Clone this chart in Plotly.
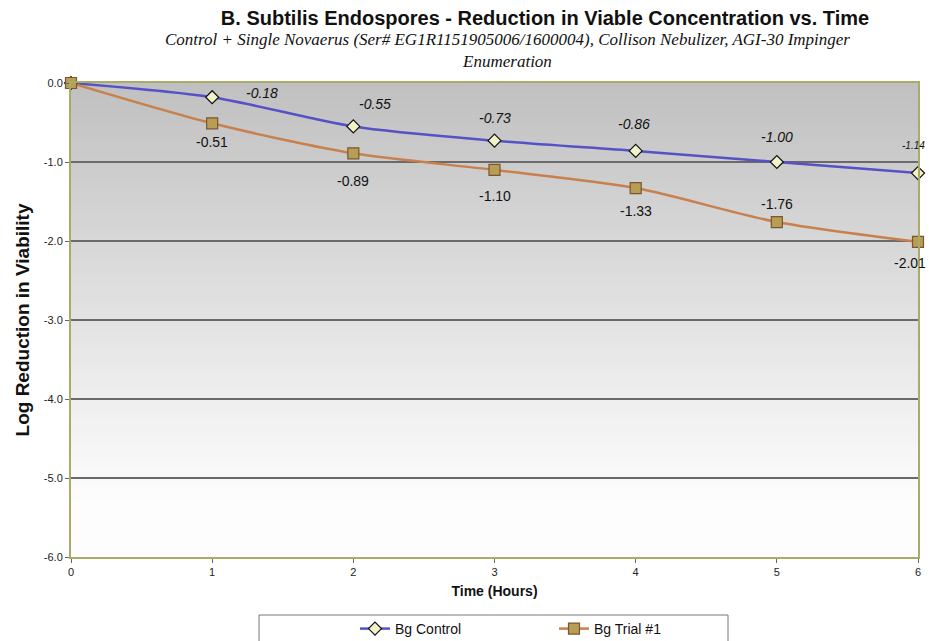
import plotly.graph_objects as go

hours = [0, 1, 2, 3, 4, 5, 6]
control = [0.0, -0.18, -0.55, -0.73, -0.86, -1.00, -1.14]
trial = [0.0, -0.51, -0.89, -1.10, -1.33, -1.76, -2.01]
control_labels = ["", "-0.18", "-0.55", "-0.73", "-0.86", "-1.00", "-1.14"]
trial_labels = ["", "-0.51", "-0.89", "-1.10", "-1.33", "-1.76", "-2.01"]
y_ticks = [0, -1, -2, -3, -4, -5, -6]
y_tick_labels = ["0.0", "-1.0", "-2.0", "-3.0", "-4.0", "-5.0", "-6.0"]

FONT = "Liberation Sans, Arial, sans-serif"
fig = go.Figure()

# gradient background via stacked rectangles (top gray -> bottom white)
n = 90
for i in range(n):
    f = (i + 0.5) / n  # 0 bottom, 1 top
    t = min(1.0, max(0.0, (1 - f) / 0.88))  # 0 at top, 1 near bottom
    c = int(round(192 + (253 - 192) * t))
    fig.add_shape(type="rect", xref="paper", yref="paper",
                  x0=0, x1=1, y0=i / n, y1=(i + 1) / n + 0.002,
                  fillcolor=f"rgb({c},{c},{c})", line_width=0, layer="below")

fig.add_trace(go.Scatter(
    x=hours, y=control, name="Bg Control", mode="lines+markers",
    line=dict(color="#5552c6", width=2.5, shape="spline", smoothing=0.8),
    marker=dict(symbol="diamond", size=10, color="#f2f2c8",
                line=dict(color="#111111", width=1.2)),
    cliponaxis=False,
))
fig.add_trace(go.Scatter(
    x=hours, y=trial, name="Bg Trial #1", mode="lines+markers",
    line=dict(color="#c8804e", width=2.5, shape="spline", smoothing=0.8),
    marker=dict(symbol="square", size=11, color="#b89e55",
                line=dict(color="#7a5530", width=1.2)),
    cliponaxis=False,
))

# control labels (italic, above)
c_off = [None, (50, -4), (22, -22), (0, -23), (-2, -27), (0, -25), (-5, -28)]
for x, y, t, o in zip(hours, control, control_labels, c_off):
    if not t:
        continue
    size = 10 if x == 6 else 14
    fig.add_annotation(x=x, y=y, text=f"<i>{t}</i>", showarrow=False,
                       xshift=o[0], yshift=-o[1],
                       font=dict(family=FONT, size=size, color="#111111"))

t_off = [None, (0, 19), (0, 28), (0, 26), (0, 23), (0, -18), (-8, 21)]
for x, y, t, o in zip(hours, trial, trial_labels, t_off):
    if not t:
        continue
    fig.add_annotation(x=x, y=y, text=t, showarrow=False,
                       xshift=o[0], yshift=-o[1],
                       font=dict(family=FONT, size=14, color="#111111"))

# legend box
fig.add_shape(type="rect", xref="paper", yref="paper",
              x0=(259 - 71) / 847, x1=(728 - 71) / 847,
              y0=-(646 - 557) / 474, y1=-(615 - 557) / 474,
              line=dict(color="#777777", width=1), fillcolor="white", layer="below")

fig.update_layout(
    width=929, height=641,
    margin=dict(l=71, r=11, t=83, b=84, autoexpand=False),
    paper_bgcolor="white",
    plot_bgcolor="rgba(0,0,0,0)",
    title=dict(
        text="<b>B. Subtilis Endospores - Reduction in Viable Concentration vs. Time</b>",
        x=545 / 929, xanchor="center", xref="container", y=1 - 18 / 641, yanchor="middle",
        font=dict(family=FONT, size=20, color="#111111"),
    ),
    showlegend=True,
    legend=dict(orientation="h", x=(355 - 71) / 847, xanchor="left",
                y=-(613 - 557) / 474, yanchor="top", bgcolor="rgba(0,0,0,0)",
                font=dict(family=FONT, size=14, color="#111111"),
                entrywidth=154, itemwidth=30),
    xaxis=dict(
        range=[0, 6], tickvals=hours, ticks="outside", ticklen=4, tickcolor="#666",
        showgrid=False, zeroline=False, showline=True, linecolor="#a8ac68", linewidth=2,
        mirror=True, automargin=False,
        tickfont=dict(family=FONT, size=11, color="#222"),
        title=dict(text="<b>Time (Hours)</b>", standoff=9,
                   font=dict(family=FONT, size=14, color="#111")),
    ),
    yaxis=dict(
        range=[-6, 0], tickvals=y_ticks, ticktext=y_tick_labels, ticks="outside", ticklen=4,
        tickcolor="#666", showgrid=True, gridcolor="#6a6a6a", gridwidth=1.5,
        zeroline=False, showline=True, linecolor="#a8ac68", linewidth=2, mirror=True,
        automargin=False,
        tickfont=dict(family=FONT, size=11, color="#222"),
        title=dict(text="<b>Log Reduction in Viability</b>", standoff=9,
                   font=dict(family=FONT, size=19, color="#111")),
    ),
)

fig.add_annotation(
    xref="paper", yref="paper", x=(507 - 71) / 847, y=1.0, yshift=10, yanchor="bottom",
    text="<i>Control + Single Novaerus (Ser# EG1R1151905006/1600004), Collison Nebulizer, AGI-30 Impinger</i><br><i>Enumeration</i>",
    showarrow=False, align="center",
    font=dict(family="Liberation Serif, Times New Roman, serif", size=17, color="#111"),
)

fig.write_html("out.html", config={"displayModeBar": False},
               post_script="document.body.style.margin='0';document.body.style.overflow='hidden';")
